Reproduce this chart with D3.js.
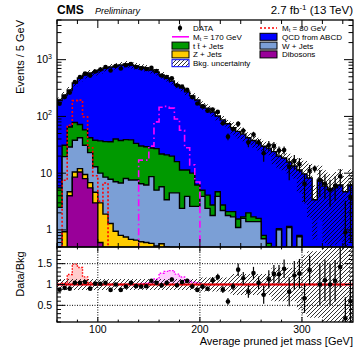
<!DOCTYPE html>
<html>
<head>
<meta charset="utf-8">
<script src="https://cdn.jsdelivr.net/npm/d3@7"></script>
<style>
  body { margin: 0; background: #fff; }
  svg { display: block; font-family: "Liberation Sans", Arial, sans-serif; }
</style>
</head>
<body>
<svg id="chart" width="355" height="354"></svg>
<script>
// bin lower edges, 5 GeV wide
const massBins = [60,65,70,75,80,85,90,95,100,105,110,115,120,125,130,135,140,145,150,155,
  160,165,170,175,180,185,190,195,200,205,210,215,220,225,230,235,240,245,250,255,
  260,265,270,275,280,285,290,295,300,305,310,315,320,325,330,335,340,345];

// backgrounds (events / 5 GeV)
const dibosons = [0,0,4,8.5,10.5,8,5.5,3,0.6,0, 0,0,0,0,0,0,0,0,0,0, 0,0,0,0,0,0,0,0,0,0,
  0,0,0,0,0,0,0,0,0,0, 0,0,0,0,0,0,0,0,0,0, 0,0,0,0,0,0,0,0];
const zJets = [0.3,0.93,0.7,2.0,1.5,1.5,1.3,1.6,2.4,1.9, 1.3,0.95,0.8,0.75,0.68,0.66,0.62,0.6,0.58,0.52,
  0.57,0.5,0,0,0,0,0,0,0,0, 0,0,0,0,0,0,0,0,0,0, 0,0,0,0,0,0,0,0,0,0, 0,0,0,0,0,0,0,0];
const wJets = [2.2,18.6,24.3,27.5,30,21.5,16.2,8.4,7.0,6.6, 6.5,6.1,5.9,7.3,6.9,6.9,5.9,5.6,8.1,4.5,
  5.2,2.9,4.5,4.5,2.4,3.9,2.6,2.6,3.9,2.4, 1.8,3.9,2.2,1.8,1.7,1.1,1.6,1.4,1.4,1.4,
  0.7,0.5,0,1.0,0,1.1,0,0.76,0,0, 0,0,0,0,0,0,0,0];
const ttJets = [3,11.5,36,40,30,27,19,25,27,27.5, 28,33,31,31,31,26,23.5,23,19,22,
  16,17.6,15.5,11.5,9,7.5,7.4,3.6,1.1,1.7, 0.95,0.8,0.55,0.3,0.4,0.46,0.1,0.6,0.3,0.2,
  0.1,0.08,0,0.05,0,0.05,0,0.04,0,0, 0,0,0,0,0,0,0,0];
const qcdABCD = [185,207,227,310,403,479,540,568,620,677, 706,733,767,799,766,739,712,684,629,579,
  515,454,400,344,307,259,220,188,153,136, 117,97,84,72,61,53,47,40,36,32,
  29,27,24,19,18.5,14.6,13.4,10.6,9.7,8.2, 3.4,7.6,5.9,5.1,5.5,6.2,4.7,6.2];

// relative background uncertainty
const bkgUnc = [0.13,0.13,0.13,0.13,0.13,0.13,0.13,0.13,0.13,0.13, 0.13,0.13,0.13,0.13,0.13,0.13,0.13,0.13,0.13,0.13,
  0.13,0.13,0.13,0.13,0.13,0.13,0.13,0.13,0.17,0.17, 0.17,0.17,0.17,0.17,0.25,0.25,0.25,0.25,0.25,0.25,
  0.25,0.25,0.4,0.4,0.4,0.4,0.4,0.6,0.7,0.8, 0.8,0.8,0.9,0.9,0.9,0.9,0.9,0.9];

// data
const dataEvents = [167,219,263,404,494,569,524,618,670,742, 646,773,700,796,837,742,705,684,716,630,
  526,494,470,353,337,294,219,169,150,126, 132,120,76,44,60,74,56,35,48,35,
  22.5,31,30,25,25.5,13,16.3,14.4,6.5,11, 12,7.6,6.5,5.1,6,8.8,0.9,3.7];
const dataErrRatio = [0.03,0.03,0.03,0.03,0.03,0.03,0.03,0.03,0.03,0.03, 0.03,0.03,0.03,0.03,0.03,0.03,0.03,0.03,0.03,0.03,
  0.05,0.05,0.05,0.05,0.05,0.05,0.05,0.05,0.05,0.05, 0.08,0.08,0.08,0.08,0.08,0.15,0.15,0.15,0.15,0.15,
  0.22,0.22,0.22,0.22,0.22,0.35,0.35,0.35,0.35,0.35, 0.5,0.5,0.5,0.5,0.5,0.5,0.5,0.5];

// signals
const sigM80 = [0,7.5,70,190,194,98,28,9,3.2,6.7, 0,0,0,0,0,0,0,0,0,0, 0,0,0,0,0,0,0,0,0,0,
  0,0,0,0,0,0,0,0,0,0, 0,0,0,0,0,0,0,0,0,0, 0,0,0,0,0,0,0,0];
const sigM170 = [0,0,0,0,0,0,0,0,0,0, 0,0,0,0,0,0,17,17,30,80, 145,150,140,90,57,28,14,7,0,0,
  0,0,0,0,0,0,0,0,0,0, 0,0,0,0,0,0,0,0,0,0, 0,0,0,0,0,0,0,0];

const xTicks = [100, 200, 300];
const yTicks = [1, 10, 100, 1000];
const ratioTicks = [0.5, 1, 1.5];

// ---------------------------------------------------------------
const svg = d3.select('#chart');
const FONT = '"Liberation Sans", Arial, sans-serif';
const X0 = 57, X1 = 353, YT = 20, YM = 247, YB = 322;
const FLOOR = 0.2;

const x  = d3.scaleLinear().domain([60, 350]).range([X0, X1]);
const y  = d3.scaleLog().domain([0.5, 5000]).range([YM, YT]);
const yr = d3.scaleLinear().domain([0.1, 1.9]).range([YB, YM]);

const layers = [
  {vals: dibosons, color: '#990099'},
  {vals: zJets,    color: '#ffcc00'},
  {vals: wJets,    color: '#7b9fd6'},
  {vals: ttJets,   color: '#009900'},
  {vals: qcdABCD,  color: '#0000ff'}
];
let run = massBins.map(() => 0);
layers.forEach(l => { run = run.map((v, i) => v + l.vals[i]); l.cum = run.slice(); });
const total = run;

const stepPts = arr => { const p = massBins.map((m, i) => [m, arr[i]]); p.push([350, arr[arr.length - 1]]); return p; };

const defs = svg.append('defs');
defs.append('clipPath').attr('id', 'clipMain').append('rect')
  .attr('x', X0).attr('y', YT).attr('width', X1 - X0).attr('height', YM - YT);
defs.append('clipPath').attr('id', 'clipRatio').append('rect')
  .attr('x', X0).attr('y', YM).attr('width', X1 - X0).attr('height', YB - YM);
const pat = defs.append('pattern').attr('id', 'hatch').attr('patternUnits', 'userSpaceOnUse')
  .attr('width', 4).attr('height', 4);
pat.append('path').attr('d', 'M-1,1 l2,-2 M0,4 l4,-4 M3,5 l2,-2')
  .attr('stroke', '#000').attr('stroke-width', 0.8);

// ---------------- main panel ----------------
const gMain = svg.append('g').attr('clip-path', 'url(#clipMain)');
const areaMain = d3.area().curve(d3.curveStepAfter)
  .x(d => x(d[0])).y0(y(FLOOR)).y1(d => y(Math.max(d[1], FLOOR)));

layers.slice().reverse().forEach(l => {
  gMain.append('path').attr('d', areaMain(stepPts(l.cum)))
    .attr('fill', l.color).attr('stroke', '#000').attr('stroke-width', 1.4);
});

const band = d3.area().curve(d3.curveStepAfter)
  .x(d => x(d[0]))
  .y0(d => y(Math.max(d[1] * (1 - d[2]), FLOOR)))
  .y1(d => y(Math.max(d[1] * (1 + d[2]), FLOOR)));
const bandPts = () => { const p = massBins.map((m, i) => [m, total[i], bkgUnc[i]]); p.push([350, total[57], bkgUnc[57]]); return p; };
gMain.append('path').attr('d', band(bandPts())).attr('fill', 'url(#hatch)');

const lineMain = d3.line().curve(d3.curveStepAfter).x(d => x(d[0])).y(d => y(Math.max(d[1], FLOOR)));
gMain.append('path').attr('d', lineMain(stepPts(sigM80))).attr('fill', 'none')
  .attr('stroke', '#ff0000').attr('stroke-width', 1.6).attr('stroke-dasharray', '2 2');
gMain.append('path').attr('d', lineMain(stepPts(sigM170))).attr('fill', 'none')
  .attr('stroke', '#ff00ff').attr('stroke-width', 1.6).attr('stroke-dasharray', '7 3 1.5 3');

const cx = i => x(massBins[i] + 2.5);
massBins.forEach((m, i) => {
  const d = dataEvents[i];
  if (!(d > 0)) return;
  const e = dataErrRatio[i] * total[i];
  gMain.append('line').attr('x1', cx(i)).attr('x2', cx(i))
    .attr('y1', y(Math.max(d - e, FLOOR))).attr('y2', y(d + e))
    .attr('stroke', '#000').attr('stroke-width', 1.2);
  gMain.append('circle').attr('cx', cx(i)).attr('cy', y(d)).attr('r', 2.3).attr('fill', '#000');
});

// ---------------- ratio panel ----------------
const gRat = svg.append('g').attr('clip-path', 'url(#clipRatio)');
const ratioSig = (sig, fill, stroke) => {
  const vals = sig.map((s, i) => 1 + s / total[i]);
  const pts = stepPts(vals);
  gRat.append('path').attr('d', d3.area().curve(d3.curveStepAfter).x(d => x(d[0])).y0(yr(1)).y1(d => yr(d[1]))(pts))
    .attr('fill', fill);
  gRat.append('path').attr('d', d3.line().curve(d3.curveStepAfter).x(d => x(d[0])).y(d => yr(d[1]))(pts))
    .attr('fill', 'none').attr('stroke', stroke).attr('stroke-width', 1.4).attr('stroke-dasharray', '1.5 1.5');
};
ratioSig(sigM80, '#ffcccc', '#ff0000');
ratioSig(sigM170, '#ffccff', '#ff00ff');

const bandR = d3.area().curve(d3.curveStepAfter)
  .x(d => x(d[0])).y0(d => yr(1 - d[2])).y1(d => yr(1 + d[2]));
gRat.append('path').attr('d', bandR(bandPts())).attr('fill', 'url(#hatch)');

[0.5, 1.5].forEach(v => gRat.append('line').attr('x1', X0).attr('x2', X1).attr('y1', yr(v)).attr('y2', yr(v))
  .attr('stroke', '#000').attr('stroke-width', 1).attr('stroke-dasharray', '1 1.5'));
xTicks.forEach(v => gRat.append('line').attr('x1', x(v)).attr('x2', x(v)).attr('y1', YM).attr('y2', YB)
  .attr('stroke', '#000').attr('stroke-width', 1).attr('stroke-dasharray', '1 1.5'));
gRat.append('line').attr('x1', X0).attr('x2', X1).attr('y1', yr(1)).attr('y2', yr(1))
  .attr('stroke', '#dd0000').attr('stroke-width', 2);

massBins.forEach((m, i) => {
  const d = dataEvents[i];
  if (!(d > 0)) return;
  const r = d / total[i], e = dataErrRatio[i];
  gRat.append('line').attr('x1', cx(i)).attr('x2', cx(i))
    .attr('y1', yr(r - e)).attr('y2', yr(r + e)).attr('stroke', '#000').attr('stroke-width', 1.2);
  gRat.append('circle').attr('cx', cx(i)).attr('cy', yr(r)).attr('r', 2.3).attr('fill', '#000');
});

// ---------------- frames & ticks ----------------
const ax = svg.append('g').attr('stroke', '#000').attr('stroke-width', 1);
ax.append('rect').attr('x', X0).attr('y', YT).attr('width', X1 - X0).attr('height', YM - YT).attr('fill', 'none').attr('stroke-width', 1.3);
ax.append('rect').attr('x', X0).attr('y', YM).attr('width', X1 - X0).attr('height', YB - YM).attr('fill', 'none').attr('stroke-width', 1.3);

const tick = (x1, y1, x2, y2) => ax.append('line').attr('x1', x1).attr('y1', y1).attr('x2', x2).attr('y2', y2);
// x ticks: every 20 GeV, major at 100s
d3.range(60, 351, 20).forEach(v => {
  const L = v % 100 === 0 ? 8 : 4;
  tick(x(v), YT, x(v), YT + L); tick(x(v), YM, x(v), YM - L);
  tick(x(v), YM, x(v), YM + L * 0.6); tick(x(v), YB, x(v), YB - L * 0.6);
});
// log y ticks
[0.1, 1, 10, 100, 1000].forEach(dec => d3.range(1, 10).forEach(k => {
  const v = dec * k;
  if (v < 0.5 || v > 5000) return;
  const L = k === 1 ? 9 : 4.5;
  tick(X0, y(v), X0 + L, y(v)); tick(X1, y(v), X1 - L, y(v));
}));
// ratio y ticks
d3.range(0.1, 1.91, 0.1).forEach(v => {
  const major = ratioTicks.some(t => Math.abs(t - v) < 1e-6);
  const L = major ? 8 : 4;
  tick(X0, yr(v), X0 + L, yr(v)); tick(X1, yr(v), X1 - L, yr(v));
});

// ---------------- labels ----------------
const txt = svg.append('g').attr('font-family', FONT).attr('fill', '#000');
yTicks.forEach(v => {
  const t = txt.append('text').attr('x', 52).attr('y', y(v) + 3.5).attr('text-anchor', 'end').attr('font-size', 10.5);
  if (v === 1 || v === 10) t.text(String(v));
  else { t.text('10'); t.append('tspan').attr('font-size', 7).attr('dy', -4.5).text(String(Math.log10(v))); }
});
ratioTicks.forEach(v => txt.append('text').attr('x', 52).attr('y', yr(v) + 3.5).attr('text-anchor', 'end')
  .attr('font-size', 10.5).text(String(v)));
xTicks.forEach(v => txt.append('text').attr('x', x(v)).attr('y', 333).attr('text-anchor', 'middle')
  .attr('font-size', 10.5).text(String(v)));

txt.append('text').attr('transform', 'translate(24,20) rotate(-90)').attr('text-anchor', 'end')
  .attr('font-size', 11).text('Events / 5 GeV');
txt.append('text').attr('transform', 'translate(24,274) rotate(-90)').attr('text-anchor', 'middle')
  .attr('font-size', 11).text('Data/Bkg');
txt.append('text').attr('x', 353).attr('y', 345).attr('text-anchor', 'end')
  .attr('font-size', 11).text('Average pruned jet mass [GeV]');

txt.append('text').attr('x', 57).attr('y', 14).attr('font-size', 12).attr('font-weight', 'bold').text('CMS');
txt.append('text').attr('x', 95).attr('y', 14).attr('font-size', 9).attr('font-style', 'italic').text('Preliminary');
const lumi = txt.append('text').attr('x', 353).attr('y', 14).attr('text-anchor', 'end').attr('font-size', 11.5);
lumi.append('tspan').text('2.7 fb');
lumi.append('tspan').attr('font-size', 8).attr('dy', -4.5).text('-1');
lumi.append('tspan').attr('dy', 4.5).text(' (13 TeV)');

// ---------------- legend ----------------
const leg = svg.append('g').attr('font-family', FONT).attr('font-size', 8);
const rowsY = [28, 36.8, 45.6, 54.4, 63.2];
const box = (x0, yy, fill, stroke) => leg.append('rect').attr('x', x0).attr('y', yy - 3.5).attr('width', 17).attr('height', 7)
  .attr('fill', fill).attr('stroke', stroke || '#000').attr('stroke-width', 1);
const label = (x0, yy) => leg.append('text').attr('x', x0).attr('y', yy + 3);

// left column
leg.append('circle').attr('cx', 180).attr('cy', rowsY[0]).attr('r', 2.2);
leg.append('line').attr('x1', 180).attr('x2', 180).attr('y1', rowsY[0] - 3.5).attr('y2', rowsY[0] + 3.5).attr('stroke', '#000');
label(193, rowsY[0]).text('DATA');
leg.append('line').attr('x1', 172).attr('x2', 189).attr('y1', rowsY[1]).attr('y2', rowsY[1]).attr('stroke', '#ff00ff').attr('stroke-width', 1.6);
const m170 = label(193, rowsY[1]); m170.append('tspan').text('M');
m170.append('tspan').attr('font-size', 5.5).attr('dy', 1.2).text('t'); m170.append('tspan').attr('dy', -1.2).text(' = 170 GeV');
box(172, rowsY[2], '#009900'); label(193, rowsY[2]).text('t t\u0304 + Jets');
box(172, rowsY[3], '#ffcc00'); label(193, rowsY[3]).text('Z + Jets');
box(172, rowsY[4], 'url(#hatch)', '#0000ff'); label(193, rowsY[4]).text('Bkg. uncertainty');

// right column
leg.append('line').attr('x1', 260).attr('x2', 277).attr('y1', rowsY[0]).attr('y2', rowsY[0]).attr('stroke', '#ff0000')
  .attr('stroke-width', 1.6).attr('stroke-dasharray', '2 2');
const m80 = label(282, rowsY[0]); m80.append('tspan').text('M');
m80.append('tspan').attr('font-size', 5.5).attr('dy', 1.2).text('t'); m80.append('tspan').attr('dy', -1.2).text(' = 80 GeV');
box(260, rowsY[1], '#0000ff'); label(282, rowsY[1]).text('QCD from ABCD');
box(260, rowsY[2], '#7b9fd6'); label(282, rowsY[2]).text('W + Jets');
box(260, rowsY[3], '#990099'); label(282, rowsY[3]).text('Dibosons');
</script>
</body>
</html>
